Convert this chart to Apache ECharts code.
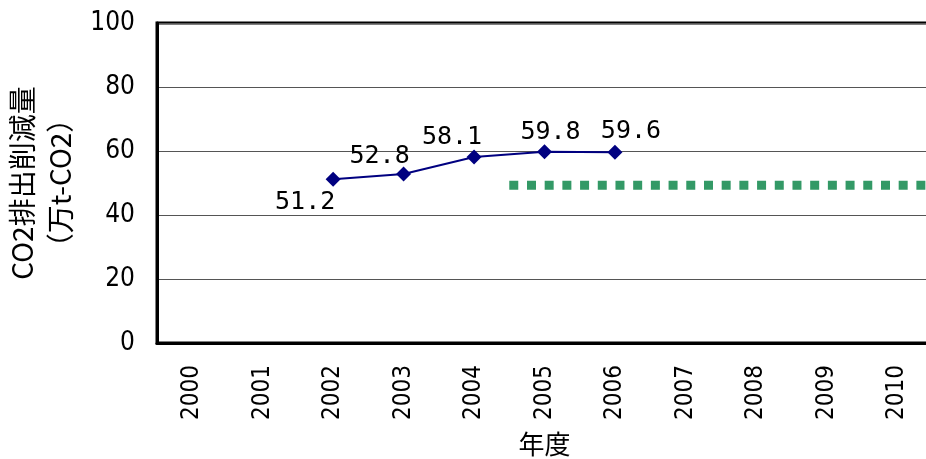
<!DOCTYPE html>
<html>
<head>
<meta charset="utf-8">
<script src="https://cdn.jsdelivr.net/npm/echarts@6/dist/echarts.min.js"></script>
<style>
  html, body { margin: 0; padding: 0; background: #fff; }
  #main { width: 926px; height: 459px; }
</style>
</head>
<body>
<div id="main"></div>
<script>
// data
var years = ['2000', '2001', '2002', '2003', '2004', '2005', '2006', '2007', '2008', '2009', '2010'];
var reduction = [null, null, 51.2, 52.8, 58.1, 59.8, 59.6, null, null, null, null];
var targetStart = '2005';
var targetValue = 49.3;
var yTicks = [0, 20, 40, 60, 80, 100];

// hand placed label offsets, like the original chart
var labelOffsets = { '2002': [-28, 23], '2003': [-24, -18], '2004': [-22, -20], '2005': [6, -19], '2006': [16, -21] };

var narrow = 'DejaVu Sans Condensed, Liberation Sans Narrow, Liberation Sans';

var chartDom = document.getElementById('main');
var myChart = echarts.init(chartDom);

var lineData = reduction.map(function (v, i) {
  var off = labelOffsets[years[i]];
  if (v == null) return v;
  return {
    value: v,
    label: { position: 'inside', offset: off }
  };
});

var startIdx = years.indexOf(targetStart);
var targetData = [[startIdx, targetValue], [years.length, targetValue]];

var option = {
  animation: false,
  grid: {
    left: 157, top: 23, width: 775, height: 320,
    containLabel: false,
    outerBoundsMode: 'none',
    show: true, borderColor: '#000', borderWidth: 3
  },
  xAxis: [
    {
      type: 'category',
      data: years,
      name: '年度',
      nameLocation: 'middle',
      nameGap: 88,
      nameTextStyle: { fontFamily: 'Noto Sans CJK JP', fontSize: 26, color: '#000' },
      axisLine: { lineStyle: { color: '#000', width: 3 } },
      axisTick: { inside: true, length: 5, interval: 0, lineStyle: { color: '#444', width: 1 } },
      axisLabel: {
        rotate: 90, margin: 22, interval: 0,
        fontFamily: narrow, fontSize: 24, color: '#000'
      }
    },
    { type: 'value', min: 0, max: years.length, show: false }
  ],
  yAxis: {
    type: 'value',
    min: yTicks[0], max: yTicks[yTicks.length - 1], interval: 20,
    name: 'CO2排出削減量\n（万t-CO2）',
    nameLocation: 'middle',
    nameGap: 78,
    nameTextStyle: { fontFamily: 'Noto Sans CJK JP', fontSize: 28, lineHeight: 38, color: '#000' },
    axisLine: { show: true, lineStyle: { color: '#000', width: 3 } },
    axisTick: { show: false },
    splitLine: { lineStyle: { color: '#555', width: 1 } },
    axisLabel: { margin: 22, fontFamily: narrow, fontSize: 26, color: '#000' }
  },
  series: [
    {
      type: 'line',
      xAxisIndex: 0,
      data: lineData,
      symbol: 'diamond',
      symbolSize: 15,
      itemStyle: { color: '#000080' },
      lineStyle: { color: '#000080', width: 2 },
      label: {
        show: true,
        fontFamily: 'DejaVu Sans Mono', fontSize: 25, color: '#000',
        formatter: function (p) { return p.value.toFixed(1); }
      }
    },
    {
      type: 'line',
      xAxisIndex: 1,
      data: targetData,
      symbol: 'none',
      lineStyle: { color: '#339966', width: 9, type: [9, 8.7], cap: 'butt' }
    }
  ]
};

myChart.setOption(option);
</script>
</body>
</html>
